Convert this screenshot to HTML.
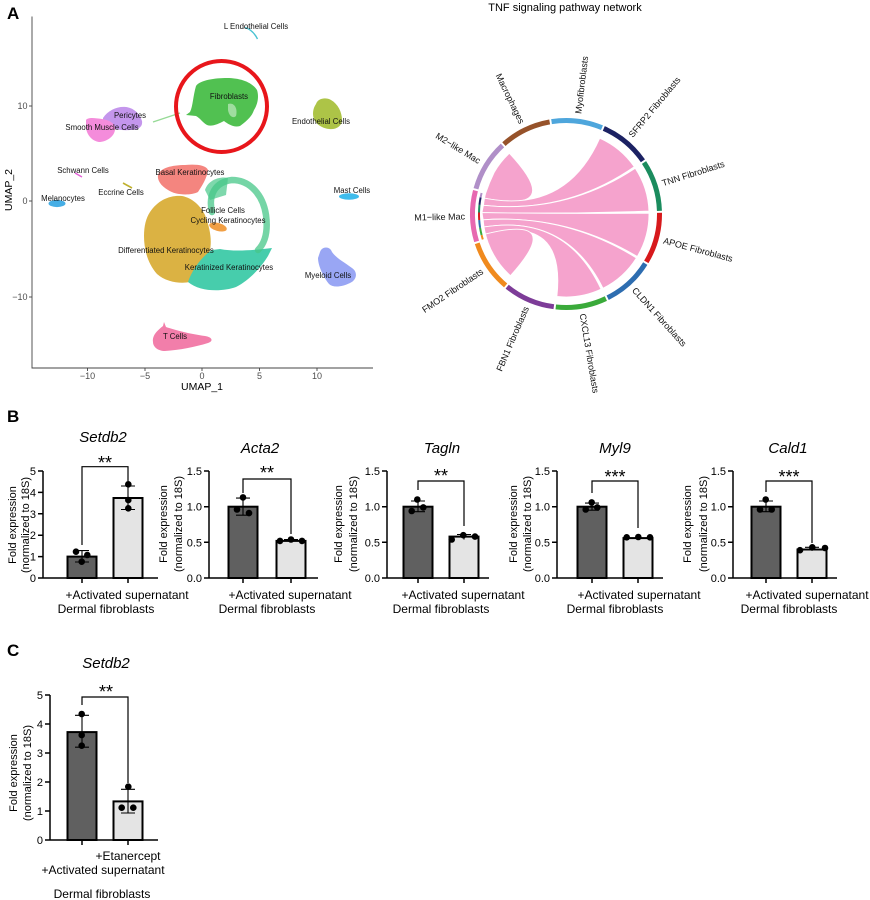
<!DOCTYPE html>
<html>
<head>
<meta charset="utf-8">
<style>
  html,body{margin:0;padding:0;background:#fff;}
  svg{display:block;font-family:"Liberation Sans",Arial,sans-serif;}
</style>
</head>
<body>
<svg width="870" height="900" viewBox="0 0 870 900" xmlns="http://www.w3.org/2000/svg">
<rect width="870" height="900" fill="#fff"/>

<!-- Panel letters -->
<text x="7" y="19" font-size="17" font-weight="bold">A</text>
<text x="7" y="422" font-size="17" font-weight="bold">B</text>
<text x="7" y="656" font-size="17" font-weight="bold">C</text>

<!-- ================= UMAP ================= -->
<g>
  <!-- clusters -->
  <g opacity="0.82">
    <path d="M245,27.5 Q253,30 257.5,39" stroke="#22b5c9" stroke-width="1.4" fill="none"/>
    <!-- fibroblasts -->
    <path d="M196,86 C200,80 215,78 227,78 C240,78 252,82 257,90 C259,96 258,104 254,110 C252,116 248,120 240,126 C234,128 228,124 224,121 C218,124 212,127 207,125 C202,122 200,118 196,116 L186,115 L190,112 C193,106 193,96 196,86 Z" fill="#2cb42c"/>
    <path d="M153,122 L180,113" stroke="#2cb42c" stroke-width="1.3" opacity="0.6"/>
    <path d="M228,104 C234,102 238,108 236,116 C233,119 229,116 228,110 Z" fill="#fff" opacity="0.45"/>
    <!-- endothelial -->
    <path d="M316,104 C318,98 326,97 331,100 C338,104 342,112 342,120 C342,126 336,130 329,129 C320,128 313,122 313,114 C313,110 314,107 316,104 Z" fill="#9cb81f"/>
    <!-- pericytes -->
    <path d="M103,118 C108,110 118,106 126,107 C134,108 140,114 142,121 C143,127 138,130 130,130 C120,131 110,128 103,124 Z" fill="#b87fe8"/>
    <!-- smooth muscle -->
    <path d="M86,120 C88,117 95,118 102,119 C110,120 116,124 115,130 C114,137 106,142 99,142 C92,141 87,135 86,128 Z" fill="#f274d4"/>
    <!-- schwann / eccrine -->
    <path d="M75,173 L82,177" stroke="#e040d0" stroke-width="1.5"/>
    <path d="M123,183 L132,188" stroke="#b3a000" stroke-width="1.6"/>
    <!-- melanocytes -->
    <ellipse cx="57" cy="203.5" rx="8.5" ry="3.6" fill="#1e9de0"/>
    <!-- mast -->
    <ellipse cx="349" cy="196.5" rx="10" ry="3.2" fill="#16aee8"/>
    <!-- myeloid -->
    <path d="M320,252 C322,246 330,246 332,252 C336,258 344,262 352,268 C358,272 357,280 350,283 C342,287 333,288 329,284 C324,278 318,266 318,258 Z" fill="#8393f2"/>
    <!-- T cells -->
    <path d="M153,342 C152,335 158,330 163,326 L164,322 L166,327 C175,330 190,334 205,336 C212,337 214,341 208,343 C195,347 180,350 165,351 C158,351 153,347 153,342 Z" fill="#f06298"/>
    <!-- differentiated -->
    <path d="M150,212 C158,200 170,195 182,196 C192,198 200,205 205,215 C210,228 212,240 210,250 C206,262 198,272 190,282 C180,284 166,282 157,274 C148,264 144,250 144,236 C144,226 146,218 150,212 Z" fill="#d4a21a"/>
    <!-- keratinized -->
    <path d="M188,282 C192,270 202,256 212,250 L220,249 C235,252 255,250 272,248 L268,256 C262,266 250,280 236,287 C222,292 200,292 188,282 Z" fill="#1fc39b"/>
    <!-- basal -->
    <path d="M158,175 C160,168 172,165 185,165 C196,164 206,165 208,170 C207,178 202,186 198,192 C190,196 175,195 168,190 C161,186 157,180 158,175 Z" fill="#f26b63"/>
    <!-- follicle -->
    <path d="M212,212 C208,195 215,182 232,180 C250,180 263,195 266,215 C268,230 266,242 258,250" stroke="#1fbb6f" stroke-width="6.5" fill="none" stroke-linecap="round" opacity="0.75"/>
    <path d="M205,190 C208,180 220,176 228,178 L226,195 L210,200 Z" fill="#1fbb6f" opacity="0.7"/>
    <!-- cycling -->
    <ellipse cx="218" cy="227" rx="9" ry="4" fill="#ee8a1c" transform="rotate(15 218 227)"/>
  </g>
  <!-- red circle -->
  <circle cx="221.5" cy="106.5" r="45.5" fill="none" stroke="#e8161b" stroke-width="4"/>
  <!-- cluster labels -->
  <g font-size="7.8" fill="#111" text-anchor="middle">
    <text x="256" y="29">L Endothelial Cells</text>
    <text x="229" y="99">Fibroblasts</text>
    <text x="321" y="124">Endothelial Cells</text>
    <text x="130" y="118">Pericytes</text>
    <text x="102" y="130">Smooth Muscle Cells</text>
    <text x="83" y="173">Schwann Cells</text>
    <text x="121" y="195">Eccrine Cells</text>
    <text x="63" y="201">Melanocytes</text>
    <text x="190" y="175">Basal Keratinocytes</text>
    <text x="223" y="213">Follicle Cells</text>
    <text x="228" y="223">Cycling Keratinocytes</text>
    <text x="166" y="253">Differentiated Keratinocytes</text>
    <text x="229" y="270">Keratinized Keratinocytes</text>
    <text x="352" y="193">Mast Cells</text>
    <text x="328" y="278">Myeloid Cells</text>
    <text x="175" y="339">T Cells</text>
  </g>
  <!-- axes -->
  <path d="M32,16.5 V368 H373" fill="none" stroke="#444" stroke-width="0.9"/>
  <g stroke="#444" stroke-width="0.9">
    <line x1="29" y1="106" x2="32" y2="106"/>
    <line x1="29" y1="201" x2="32" y2="201"/>
    <line x1="29" y1="297" x2="32" y2="297"/>
    <line x1="87.5" y1="368" x2="87.5" y2="371"/>
    <line x1="145" y1="368" x2="145" y2="371"/>
    <line x1="202" y1="368" x2="202" y2="371"/>
    <line x1="259.5" y1="368" x2="259.5" y2="371"/>
    <line x1="317" y1="368" x2="317" y2="371"/>
  </g>
  <g font-size="9" fill="#4d4d4d">
    <text x="27.5" y="109" text-anchor="end">10</text>
    <text x="27.5" y="204" text-anchor="end">0</text>
    <text x="27.5" y="300" text-anchor="end">−10</text>
    <text x="87.5" y="379" text-anchor="middle">−10</text>
    <text x="145" y="379" text-anchor="middle">−5</text>
    <text x="202" y="379" text-anchor="middle">0</text>
    <text x="259.5" y="379" text-anchor="middle">5</text>
    <text x="317" y="379" text-anchor="middle">10</text>
  </g>
  <text transform="translate(12,190) rotate(-90)" text-anchor="middle" font-size="10.5">UMAP_2</text>
  <text x="202" y="390" text-anchor="middle" font-size="10.5">UMAP_1</text>
</g>

<!-- ================= Chord diagram ================= -->
<g>
  <text x="565" y="11" text-anchor="middle" font-size="11">TNF signaling pathway network</text>
  <defs>
    <path id="seg" d="M566,120.5 A93.5,93.5 0 0 1 614.89,134.31" fill="none" stroke-width="5"/>
  </defs>
  <g fill="none" stroke-width="5">
    <use href="#seg" stroke="#4ea6dc" transform="rotate(-8.9 566 214)"/>
    <use href="#seg" stroke="#1c2263" transform="rotate(23.83 566 214)"/>
    <use href="#seg" stroke="#1b8c5e" transform="rotate(56.56 566 214)"/>
    <use href="#seg" stroke="#d7191c" transform="rotate(89.29 566 214)"/>
    <use href="#seg" stroke="#2d6db0" transform="rotate(122.02 566 214)"/>
    <use href="#seg" stroke="#3aaa3a" transform="rotate(154.75 566 214)"/>
    <use href="#seg" stroke="#7d3c98" transform="rotate(187.48 566 214)"/>
    <use href="#seg" stroke="#f08a1e" transform="rotate(220.21 566 214)"/>
    <use href="#seg" stroke="#e768b0" transform="rotate(252.94 566 214)"/>
    <use href="#seg" stroke="#b08fc8" transform="rotate(285.67 566 214)"/>
    <use href="#seg" stroke="#96522a" transform="rotate(318.4 566 214)"/>
  </g>
  <!-- chords -->
  <g fill="#f5a3cd" stroke="#fff" stroke-width="0.9">
    <path d="M484.53,198.16 A83,83 0 0 1 485.57,193.50 Q489,183 494.12,172.5 A83,83 0 0 1 509.39,153.30 Q566,214 484.53,198.16 Z"/>
    <path d="M483.46,205.32 A83,83 0 0 1 484.53,198.16 Q566,214 599.76,138.18 A83,83 0 0 1 634.27,166.79 Q566,214 483.46,205.32 Z"/>
    <path d="M482.01,212.55 A83,83 0 0 1 483.46,205.32 Q566,214 635.29,168.31 A83,83 0 0 1 648.95,211.10 Q566,214 482.01,212.55 Z"/>
    <path d="M483.20,219.79 A83,83 0 0 1 482.01,212.55 Q566,214 649.0,213.13 A83,83 0 0 1 637.29,256.50 Q566,214 483.20,219.79 Z"/>
    <path d="M484.02,226.98 A83,83 0 0 1 483.20,219.79 Q566,214 636.39,257.98 A83,83 0 0 1 603.03,288.28 Q566,214 484.02,226.98 Z"/>
    <path d="M485.47,234.08 A83,83 0 0 1 484.02,226.98 Q566,214 601.08,289.22 A83,83 0 0 1 556.89,296.50 Q566,214 485.47,234.08 Z"/>
    <path d="M486.63,238.27 A83,83 0 0 1 485.47,234.08 Q566,214 510.46,275.68 A83,83 0 0 1 488.0,242.39 L486.63,238.27 Z"/>
  </g>
  <!-- inner track at M1 -->
  <defs>
    <path id="t3" d="M566,127 A87,87 0 0 1 570.55,127.12"/>
    <path id="t5" d="M566,127 A87,87 0 0 1 573.58,127.33"/>
  </defs>
  <g fill="none" stroke-width="2">
    <use href="#t3" stroke="#f08a1e" transform="rotate(253 566 214)"/>
    <use href="#t5" stroke="#3aaa3a" transform="rotate(256 566 214)"/>
    <use href="#t5" stroke="#2d6db0" transform="rotate(261 566 214)"/>
    <use href="#t5" stroke="#d7191c" transform="rotate(266 566 214)"/>
    <use href="#t5" stroke="#1b8c5e" transform="rotate(271 566 214)"/>
    <use href="#t5" stroke="#1c2263" transform="rotate(276 566 214)"/>
    <use href="#t3" stroke="#b08fc8" transform="rotate(281 566 214)"/>
  </g>
  <!-- labels -->
  <g font-size="9" fill="#111">
    <text x="667" y="214" dy="0.35em" transform="rotate(-83.1 566 214)">Myofibroblasts</text>
    <text x="667" y="214" dy="0.35em" transform="rotate(-50.4 566 214)">SFRP2 Fibroblasts</text>
    <text x="667" y="214" dy="0.35em" transform="rotate(-17.7 566 214)">TNN Fibroblasts</text>
    <text x="667" y="214" dy="0.35em" transform="rotate(15.1 566 214)">APOE Fibroblasts</text>
    <text x="667" y="214" dy="0.35em" transform="rotate(47.8 566 214)">CLDN1 Fibroblasts</text>
    <text x="667" y="214" dy="0.35em" transform="rotate(80.5 566 214)">CXCL13 Fibroblasts</text>
    <text x="465" y="214" dy="0.35em" text-anchor="end" transform="rotate(-66.8 566 214)">FBN1 Fibroblasts</text>
    <text x="465" y="214" dy="0.35em" text-anchor="end" transform="rotate(-34 566 214)">FMO2 Fibroblasts</text>
    <text x="465" y="214" dy="0.35em" text-anchor="end" transform="rotate(-1.3 566 214)">M1−like Mac</text>
    <text x="465" y="214" dy="0.35em" text-anchor="end" transform="rotate(31.4 566 214)">M2−like Mac</text>
    <text x="465" y="214" dy="0.35em" text-anchor="end" transform="rotate(64.2 566 214)">Macrophages</text>
  </g>
</g>

<!-- ================= Panel B ================= -->
<g font-size="11" fill="#000">

  <!-- Chart 1: Setdb2 -->
  <text x="103" y="442" font-size="15" font-style="italic" text-anchor="middle">Setdb2</text>
  <rect x="67.5" y="556.6" width="29" height="21.4" fill="#606060" stroke="#000" stroke-width="2"/>
  <rect x="113.5" y="498" width="29" height="80" fill="#e4e4e4" stroke="#000" stroke-width="2"/>
  <path d="M43,471 V578 H158 M38,578 H43 M38,556.6 H43 M38,535.2 H43 M38,513.8 H43 M38,492.4 H43 M38,471 H43 M82,578 V583 M128,578 V583" fill="none" stroke="#000" stroke-width="1.5"/>
  <g text-anchor="end">
    <text x="36" y="582">0</text><text x="36" y="560.6">1</text><text x="36" y="539.2">2</text>
    <text x="36" y="517.8">3</text><text x="36" y="496.4">4</text><text x="36" y="475">5</text>
  </g>
  <path d="M82,550.6 V562 M75,550.6 H89 M75,562 H89 M128,486 V509.5 M121,486 H135 M121,509.5 H135" stroke="#000" stroke-width="1.1" fill="none"/>
  <g fill="#000">
    <circle cx="76" cy="551.7" r="3.3"/><circle cx="87.3" cy="555" r="3.3"/><circle cx="81.7" cy="561.7" r="3.3"/>
    <circle cx="128.3" cy="484.3" r="3.3"/><circle cx="128.3" cy="500" r="3.3"/><circle cx="128.3" cy="508.3" r="3.3"/>
  </g>
  <path d="M82,545 V466.7 H128 V481" fill="none" stroke="#000" stroke-width="1.2"/>
  <text x="105" y="469" font-size="18" text-anchor="middle">**</text>
  <text transform="translate(16,525) rotate(-90)" text-anchor="middle">Fold expression</text>
  <text transform="translate(29,525) rotate(-90)" text-anchor="middle">(normalized to 18S)</text>
  <text x="127" y="599" font-size="12" text-anchor="middle">+Activated supernatant</text>
  <text x="106" y="613" font-size="12" text-anchor="middle">Dermal fibroblasts</text>

  <!-- Chart 2: Acta2 -->
  <text x="260" y="453" font-size="15" font-style="italic" text-anchor="middle">Acta2</text>
  <rect x="228.5" y="506.7" width="29" height="71.3" fill="#606060" stroke="#000" stroke-width="2"/>
  <rect x="276.5" y="540.9" width="29" height="37.1" fill="#e4e4e4" stroke="#000" stroke-width="2"/>
  <path d="M209,471 V578 H318 M204,578 H209 M204,542.3 H209 M204,506.7 H209 M204,471 H209 M243,578 V583 M291,578 V583" fill="none" stroke="#000" stroke-width="1.5"/>
  <g text-anchor="end">
    <text x="202" y="582">0.0</text><text x="202" y="546.3">0.5</text><text x="202" y="510.7">1.0</text><text x="202" y="475">1.5</text>
  </g>
  <path d="M243,498.1 V515.2 M236,498.1 H250 M236,515.2 H250 M291,539.5 V542.3 M284,539.5 H298" stroke="#000" stroke-width="1.1" fill="none"/>
  <g fill="#000">
    <circle cx="237" cy="509.5" r="3.3"/><circle cx="243" cy="497.4" r="3.3"/><circle cx="249" cy="513.1" r="3.3"/>
    <circle cx="280" cy="540.9" r="3.3"/><circle cx="291" cy="539.5" r="3.3"/><circle cx="302" cy="540.9" r="3.3"/>
  </g>
  <path d="M243,493 V479 H291 V534" fill="none" stroke="#000" stroke-width="1.2"/>
  <text x="267" y="479" font-size="18" text-anchor="middle">**</text>
  <text transform="translate(167,524) rotate(-90)" text-anchor="middle">Fold expression</text>
  <text transform="translate(182,524) rotate(-90)" text-anchor="middle">(normalized to 18S)</text>
  <text x="290" y="599" font-size="12" text-anchor="middle">+Activated supernatant</text>
  <text x="267" y="613" font-size="12" text-anchor="middle">Dermal fibroblasts</text>

  <!-- Chart 3: Tagln -->
  <text x="442" y="453" font-size="15" font-style="italic" text-anchor="middle">Tagln</text>
  <rect x="403.5" y="506.7" width="29" height="71.3" fill="#606060" stroke="#000" stroke-width="2"/>
  <rect x="449.5" y="536.6" width="29" height="41.4" fill="#e4e4e4" stroke="#000" stroke-width="2"/>
  <path d="M387,471 V578 H489 M382,578 H387 M382,542.3 H387 M382,506.7 H387 M382,471 H387 M418,578 V583 M464,578 V583" fill="none" stroke="#000" stroke-width="1.5"/>
  <g text-anchor="end">
    <text x="380" y="582">0.0</text><text x="380" y="546.3">0.5</text><text x="380" y="510.7">1.0</text><text x="380" y="475">1.5</text>
  </g>
  <path d="M418,501 V511.7 M411,501 H425 M411,511.7 H425 M464,534.5 V539.5 M457,534.5 H471" stroke="#000" stroke-width="1.1" fill="none"/>
  <g fill="#000">
    <circle cx="411.7" cy="511" r="3.3"/><circle cx="417.3" cy="499.5" r="3.3"/><circle cx="423.3" cy="507.4" r="3.3"/>
    <circle cx="451.7" cy="539.5" r="3.3"/><circle cx="463.3" cy="535.2" r="3.3"/><circle cx="475" cy="536.6" r="3.3"/>
  </g>
  <path d="M418,490 V481 H464 V526" fill="none" stroke="#000" stroke-width="1.2"/>
  <text x="441" y="482" font-size="18" text-anchor="middle">**</text>
  <text transform="translate(342,524) rotate(-90)" text-anchor="middle">Fold expression</text>
  <text transform="translate(357,524) rotate(-90)" text-anchor="middle">(normalized to 18S)</text>
  <text x="463" y="599" font-size="12" text-anchor="middle">+Activated supernatant</text>
  <text x="441" y="613" font-size="12" text-anchor="middle">Dermal fibroblasts</text>

  <!-- Chart 4: Myl9 -->
  <text x="615" y="453" font-size="15" font-style="italic" text-anchor="middle">Myl9</text>
  <rect x="577.5" y="506.7" width="29" height="71.3" fill="#606060" stroke="#000" stroke-width="2"/>
  <rect x="623.5" y="538.1" width="29" height="39.9" fill="#e4e4e4" stroke="#000" stroke-width="2"/>
  <path d="M557,471 V578 H663 M552,578 H557 M552,542.3 H557 M552,506.7 H557 M552,471 H557 M592,578 V583 M638,578 V583" fill="none" stroke="#000" stroke-width="1.5"/>
  <g text-anchor="end">
    <text x="550" y="582">0.0</text><text x="550" y="546.3">0.5</text><text x="550" y="510.7">1.0</text><text x="550" y="475">1.5</text>
  </g>
  <path d="M592,503.1 V510.2 M585,503.1 H599 M585,510.2 H599" stroke="#000" stroke-width="1.1" fill="none"/>
  <g fill="#000">
    <circle cx="585.7" cy="509.5" r="3.3"/><circle cx="591.7" cy="502.4" r="3.3"/><circle cx="597.3" cy="507.4" r="3.3"/>
    <circle cx="626.7" cy="537.3" r="3.3"/><circle cx="638.3" cy="537" r="3.3"/><circle cx="650" cy="537.3" r="3.3"/>
  </g>
  <path d="M592,493 V481 H638 V528" fill="none" stroke="#000" stroke-width="1.2"/>
  <text x="615" y="483" font-size="18" text-anchor="middle">***</text>
  <text transform="translate(517,524) rotate(-90)" text-anchor="middle">Fold expression</text>
  <text transform="translate(531,524) rotate(-90)" text-anchor="middle">(normalized to 18S)</text>
  <text x="639" y="599" font-size="12" text-anchor="middle">+Activated supernatant</text>
  <text x="615" y="613" font-size="12" text-anchor="middle">Dermal fibroblasts</text>

  <!-- Chart 5: Cald1 -->
  <text x="788" y="453" font-size="15" font-style="italic" text-anchor="middle">Cald1</text>
  <rect x="751.5" y="506.7" width="29" height="71.3" fill="#606060" stroke="#000" stroke-width="2"/>
  <rect x="797.5" y="549.5" width="29" height="28.5" fill="#e4e4e4" stroke="#000" stroke-width="2"/>
  <path d="M733,471 V578 H837 M728,578 H733 M728,542.3 H733 M728,506.7 H733 M728,471 H733 M766,578 V583 M812,578 V583" fill="none" stroke="#000" stroke-width="1.5"/>
  <g text-anchor="end">
    <text x="726" y="582">0.0</text><text x="726" y="546.3">0.5</text><text x="726" y="510.7">1.0</text><text x="726" y="475">1.5</text>
  </g>
  <path d="M766,501 V511.7 M759,501 H773 M759,511.7 H773 M812,547.3 V550.9 M805,547.3 H819" stroke="#000" stroke-width="1.1" fill="none"/>
  <g fill="#000">
    <circle cx="760" cy="509.5" r="3.3"/><circle cx="765.7" cy="499.5" r="3.3"/><circle cx="771.7" cy="509.5" r="3.3"/>
    <circle cx="800" cy="550.2" r="3.3"/><circle cx="812.3" cy="547.3" r="3.3"/><circle cx="825" cy="548" r="3.3"/>
  </g>
  <path d="M766,492 V481 H812 V543" fill="none" stroke="#000" stroke-width="1.2"/>
  <text x="789" y="483" font-size="18" text-anchor="middle">***</text>
  <text transform="translate(691,524) rotate(-90)" text-anchor="middle">Fold expression</text>
  <text transform="translate(707,524) rotate(-90)" text-anchor="middle">(normalized to 18S)</text>
  <text x="807" y="599" font-size="12" text-anchor="middle">+Activated supernatant</text>
  <text x="789" y="613" font-size="12" text-anchor="middle">Dermal fibroblasts</text>
</g>

<!-- ================= Panel C ================= -->
<g font-size="11" fill="#000">
  <text x="106" y="668" font-size="15" font-style="italic" text-anchor="middle">Setdb2</text>
  <rect x="67.5" y="732.1" width="29" height="107.9" fill="#606060" stroke="#000" stroke-width="2"/>
  <rect x="113.5" y="801.4" width="29" height="38.6" fill="#e4e4e4" stroke="#000" stroke-width="2"/>
  <path d="M50,695 V840 H158 M45,840 H50 M45,811 H50 M45,782 H50 M45,753 H50 M45,724 H50 M45,695 H50 M82,840 V845 M128,840 V845" fill="none" stroke="#000" stroke-width="1.5"/>
  <g text-anchor="end">
    <text x="43" y="844">0</text><text x="43" y="815">1</text><text x="43" y="786">2</text>
    <text x="43" y="757">3</text><text x="43" y="728">4</text><text x="43" y="699">5</text>
  </g>
  <path d="M82,715.3 V747.2 M75,715.3 H89 M75,747.2 H89 M128,789.3 V813 M121,789.3 H135 M121,813 H135" stroke="#000" stroke-width="1.1" fill="none"/>
  <g fill="#000">
    <circle cx="81.7" cy="714" r="3.3"/><circle cx="81.7" cy="735" r="3.3"/><circle cx="81.7" cy="745.7" r="3.3"/>
    <circle cx="128.3" cy="786.7" r="3.3"/><circle cx="121.7" cy="807.7" r="3.3"/><circle cx="133.3" cy="807.7" r="3.3"/>
  </g>
  <path d="M82,705 V697 H128 V783" fill="none" stroke="#000" stroke-width="1.2"/>
  <text x="106" y="698" font-size="18" text-anchor="middle">**</text>
  <text transform="translate(17,773) rotate(-90)" text-anchor="middle">Fold expression</text>
  <text transform="translate(31,773) rotate(-90)" text-anchor="middle">(normalized to 18S)</text>
  <text x="128" y="860" font-size="12" text-anchor="middle">+Etanercept</text>
  <text x="103" y="874" font-size="12" text-anchor="middle">+Activated supernatant</text>
  <text x="102" y="898" font-size="12" text-anchor="middle">Dermal fibroblasts</text>
</g>
</svg>
</body>
</html>
